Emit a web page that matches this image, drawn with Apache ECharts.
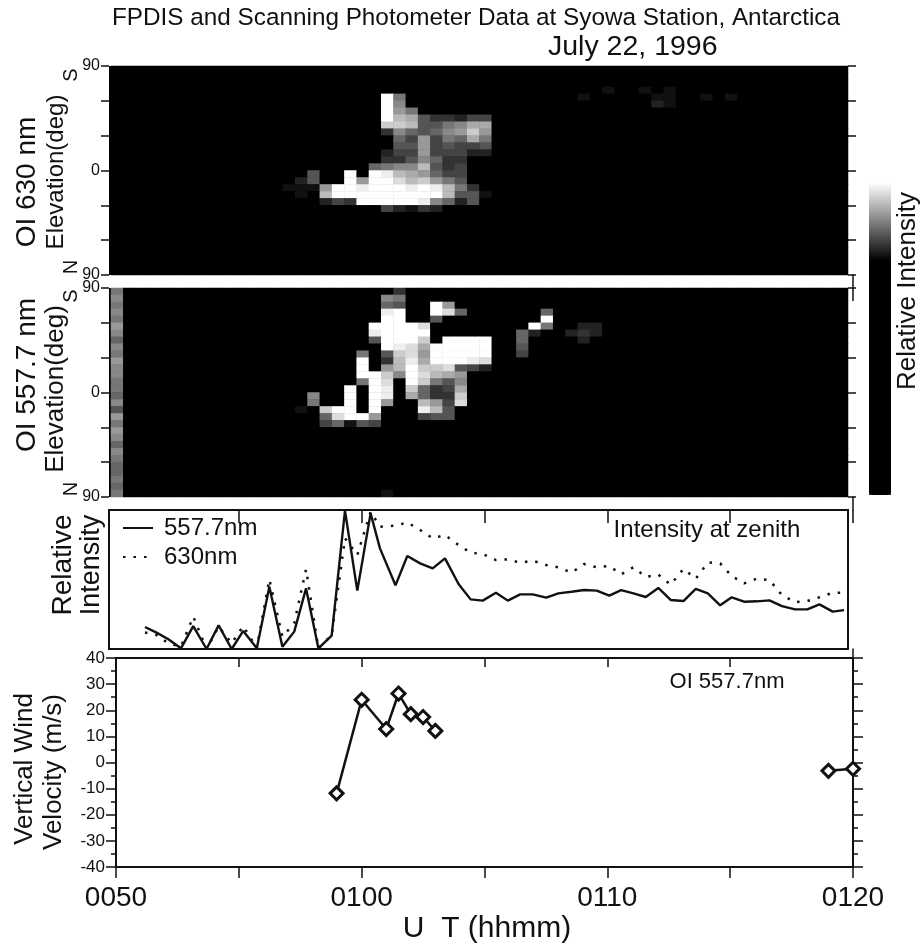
<!DOCTYPE html>
<html>
<head>
<meta charset="utf-8">
<style>html,body{margin:0;padding:0;background:#fff}#c{width:922px;height:945px}</style>
<script src="https://cdn.jsdelivr.net/npm/echarts@6/dist/echarts.min.js"></script>
</head>
<body>
<div id="c"></div>
<script>
const FONT = '"Liberation Sans", Arial, sans-serif';
const INK = '#111';

const titleText = 'FPDIS and Scanning Photometer Data at Syowa Station, Antarctica';
const dateText = 'July 22, 1996';
const elevationLabels = { '90': '90', '0': '0', '-90': '90' };
const utLabels = { 0: '0050', 10: '0100', 20: '0110', 30: '0120' };
const gapTicks = [5, 10, 15, 20, 25, 30];

// Image cells: [row, first column, one hex digit per column]; 30 rows x 60 columns
const oi630Cells = [
  [3, 40, '1001'], [3, 43, '101'], [4, 22, 'f7'], [4, 38, '1'], [4, 44, '11'], [4, 48, '101'],
  [5, 22, 'f8'], [5, 44, '21'], [6, 22, 'f97'],
  [7, 22, 'fba533244'], [8, 22, 'ccb5578aa'], [9, 22, '3865689c9'], [10, 22, '0649476a7'],
  [11, 22, '055945445'], [12, 22, '244944422'], [13, 22, '3358633'], [14, 21, '6788b534'],
  [15, 16, '500f0feba9644'], [16, 15, '2500f9ffdbc975'], [17, 14, '1119ffefffefeb73'],
  [18, 15, '10bfffffffffb551'], [19, 17, '243fffffe8625'], [20, 22, '42132']
];
const oi5577Edge = '787879868798877685979868766767';
const oi5577Cells = [
  [0, 23, '3'], [1, 22, '87'], [2, 22, '65'], [2, 26, 'f9'], [3, 22, 'ef00fd6'], [3, 35, '6'],
  [4, 22, 'ff005'], [4, 35, 'f'], [5, 21, 'ffffd'], [5, 34, 'f7'], [5, 38, '22'],
  [6, 21, 'effff'], [6, 33, '62'], [6, 37, '232'], [7, 21, '5fffc0ffff'], [7, 33, '6'], [7, 38, '2'],
  [8, 22, 'fedafffff'], [8, 33, '5'], [9, 20, '705cd9fffff'], [9, 33, '4'],
  [10, 20, 'f03beafffed'], [11, 20, 'f09bfccd542'], [12, 20, 'ffc8fdba9'],
  [13, 20, '7fd0fc758'], [14, 19, 'f0fe0c634a'], [15, 16, '800f0fe0a633c'],
  [16, 16, '700f0f900b94d'], [17, 15, '10cff0f000eb5'], [18, 17, '6dff9000455'],
  [19, 17, '46154'], [29, 22, '1']
];

// Intensity at zenith: minutes after 0050 on the panel's own frame, 0-100 relative scale
const zenithTimes = [1.46, 1.93, 2.41, 2.92, 3.42, 3.96, 4.45, 4.98, 5.45, 6.0, 6.51, 7.04, 7.52, 8.0, 8.5, 9.04, 9.58, 10.08, 10.62, 11.0, 11.63, 12.11, 12.63, 13.14, 13.64, 14.19, 14.68, 15.17, 15.71, 16.19, 16.69, 17.2, 17.75, 18.24, 18.78, 19.28, 19.8, 20.31, 20.79, 21.29, 21.79, 22.3, 22.8, 23.32, 23.82, 24.31, 24.81, 25.28, 25.78, 26.3, 26.81, 27.32, 27.85, 28.35, 28.84, 29.38, 29.84];
const zenith5577 = [15.8, 11.8, 7, 0.5, 16.5, 0, 17, 0, 13, 0.5, 44.8, 1.7, 12.5, 43.6, 0.5, 9.6, 99.5, 42, 97.6, 72.4, 45.8, 66.9, 61.6, 58, 65.2, 46.8, 35.7, 34.8, 40.5, 34.8, 39.3, 39.3, 36.9, 40, 41.2, 42.4, 42, 38.4, 42.4, 40, 37.4, 43.9, 35.3, 34.5, 43.2, 40, 31.4, 37.2, 34, 34.3, 35, 30.9, 28.5, 28.5, 32.1, 26.9, 28];
const zenith630 = [11.8, 10.1, 4.1, 1.7, 23.3, 0, 16.1, 4.1, 16.5, 0.5, 50.1, 8.9, 18.5, 57.3, 0.5, 10.1, 79.6, 67.6, 98.8, 88, 88.7, 91.1, 85.6, 79.6, 82, 74.8, 69.3, 68.3, 64, 64.5, 62.1, 63.5, 60.4, 58.8, 54.9, 61.1, 58.8, 59.7, 53.7, 58.8, 51.8, 53.5, 46.3, 57.6, 50.6, 62.3, 61.6, 52.5, 47.2, 50.6, 49.6, 38.8, 33.6, 34.5, 37.2, 40.5, 40.5];

// Vertical wind: minutes after 0050, m/s; null breaks the line
const windTimes = [8.98, 10, 11, 11.5, 12, 12.5, 13, 20, 29, 30];
const windValues = [-11.8, 24, 12.8, 26.4, 18.5, 17.4, 12.1, null, -3.2, -2.4];

const COLS = 60, ROWS = 30;
const colCats = Array.from({ length: COLS }, (_, i) => i);
const rowCats = Array.from({ length: ROWS }, (_, i) => i);
const toIntensity = d => { const v = parseInt(d, 16); return v ? 0.75 + 0.25 * v / 15 : 0; };
function buildCells(cells, edge) {
  const g = rowCats.map(() => colCats.map(() => 0));
  cells.forEach(([r, c, s]) => { [...s].forEach((d, i) => { g[r][c + i] = toIntensity(d); }); });
  if (edge) [...edge].forEach((d, r) => { g[r][0] = toIntensity(d); });
  const out = [];
  g.forEach((row, r) => row.forEach((v, c) => out.push([c, r, v])));
  return out;
}

const hiddenX = (gridIndex) => ({ type: 'value', gridIndex, min: 0, max: 30, show: false });
const elevAxis = (gridIndex, position) => ({
  type: 'value', gridIndex, position, min: -90, max: 90, interval: 30,
  splitLine: { show: false }, axisLine: { show: false, onZero: false },
  axisTick: { show: true, length: 8, lineStyle: { color: INK, width: 1.5 } },
  axisLabel: position === 'left'
    ? { show: true, margin: 9, color: INK, fontFamily: FONT, fontSize: 16, showMinLabel: true, showMaxLabel: true, formatter: v => elevationLabels[v] || '' }
    : { show: false }
});
const catX = gridIndex => ({ type: 'category', gridIndex, data: colCats, show: false });
const catY = gridIndex => ({ type: 'category', gridIndex, data: rowCats, inverse: true, show: false });

const grids = [
  { left: 109, top: 66, width: 739, height: 209, show: true, backgroundColor: '#000', borderWidth: 0 },
  { left: 111, top: 66, width: 737, height: 209 },
  { left: 109, top: 288, width: 739, height: 209, show: true, backgroundColor: '#000', borderWidth: 0 },
  { left: 111, top: 288, width: 737, height: 209 },
  { left: 109, top: 510, width: 739, height: 139, show: true, backgroundColor: '#fff', borderColor: INK, borderWidth: 2 },
  { left: 116, top: 658, width: 737, height: 209 },
  { left: 116, top: 275, width: 737, height: 13 },
  { left: 116, top: 497, width: 737, height: 13 },
  { left: 116, top: 649, width: 737, height: 9 }
];
const gapX = (gridIndex, len) => ({
  type: 'value', gridIndex, position: 'top', min: 0, max: 30, interval: 5,
  splitLine: { show: false }, axisLine: { show: false }, axisLabel: { show: false },
  axisTick: { show: true, inside: true, length: len, customValues: gapTicks, lineStyle: { color: INK, width: 1.5 } }
});
const gapY = gridIndex => ({
  type: 'value', gridIndex, position: 'right', min: 0, max: 1,
  splitLine: { show: false }, axisTick: { show: false }, axisLabel: { show: false },
  axisLine: { show: true, onZero: false, lineStyle: { color: INK, width: 1.5 } }
});
const windY = (gridIndex, position) => ({
  type: 'value', gridIndex, position, min: -40, max: 40, interval: 10,
  splitLine: { show: false },
  axisLine: { show: true, onZero: false, lineStyle: { color: INK, width: 2 } },
  axisTick: { show: true, length: 10, lineStyle: { color: INK, width: 1.5 } },
  minorTick: { show: true, splitNumber: 2, length: 5, lineStyle: { color: INK, width: 1.5 } },
  axisLabel: position === 'left'
    ? { show: true, margin: 11, color: INK, fontFamily: FONT, fontSize: 17, showMinLabel: true, showMaxLabel: true }
    : { show: false }
});

const xAxes = [
  hiddenX(0), catX(1), hiddenX(2), catX(3), hiddenX(4),
  {
    type: 'value', gridIndex: 5, position: 'bottom', min: 0, max: 30, interval: 5,
    splitLine: { show: false },
    axisLine: { show: true, onZero: false, lineStyle: { color: INK, width: 2 } },
    axisTick: { show: true, length: 11, lineStyle: { color: INK, width: 1.5 } },
    axisLabel: { show: true, margin: 17, color: INK, fontFamily: FONT, fontSize: 28, showMinLabel: true, showMaxLabel: true, formatter: v => utLabels[v] || '' }
  },
  gapX(6, 13), gapX(7, 13), gapX(8, 9),
  { type: 'value', gridIndex: 5, position: 'top', min: 0, max: 30, splitLine: { show: false }, axisTick: { show: false }, axisLabel: { show: false }, axisLine: { show: true, onZero: false, lineStyle: { color: INK, width: 2 } } }
];
const yAxes = [
  elevAxis(0, 'left'), catY(1), elevAxis(2, 'left'), catY(3),
  { type: 'value', gridIndex: 4, min: 0, max: 100, show: false },
  windY(5, 'left'),
  gapY(6), gapY(7), gapY(8),
  windY(5, 'right'), elevAxis(0, 'right'), elevAxis(2, 'right')
];

const rotated = (text, x, y, fontSize) => ({
  type: 'text', x, y, rotation: Math.PI / 2, silent: true,
  style: { text, fontSize, fontFamily: FONT, fill: INK, align: 'center', verticalAlign: 'middle' }
});
const plain = (text, x, y, fontSize) => ({
  type: 'text', x, y, silent: true,
  style: { text, fontSize, fontFamily: FONT, fill: INK, align: 'center', verticalAlign: 'middle' }
});

const chart = echarts.init(document.getElementById('c'), null, { renderer: 'canvas' });
chart.setOption({
  animation: false,
  backgroundColor: '#fff',
  title: [
    { text: titleText, left: 112, top: 6, padding: 0, textStyle: { color: INK, fontFamily: FONT, fontWeight: 'normal', fontSize: 24.3 } },
    { text: dateText, left: 548, top: 33, padding: 0, textStyle: { color: INK, fontFamily: FONT, fontWeight: 'normal', fontSize: 28.5 } }
  ],
  grid: grids,
  xAxis: xAxes,
  yAxis: yAxes,
  visualMap: {
    type: 'continuous', seriesIndex: [0, 1], min: 0, max: 1,
    left: 869, top: 183, itemWidth: 22, itemHeight: 312, padding: 0,
    calculable: false, hoverLink: false, realtime: false, text: ['', ''], showLabel: false,
    inRange: { color: ['#000', '#000', '#000', '#000', '#fff'] },
    textStyle: { fontSize: 1, color: '#fff' }, formatter: () => ''
  },
  legend: {
    left: 122, top: 516, orient: 'vertical', itemWidth: 30, itemHeight: 24, itemGap: 5,
    selectedMode: false, padding: 0, itemStyle: { opacity: 0 },
    data: ['557.7nm', '630nm'],
    textStyle: { color: INK, fontFamily: FONT, fontSize: 24, padding: [0, 0, 0, 6] }
  },
  graphic: [
    { type: 'rect', silent: true, z: -1, shape: { x: 869, y: 485, width: 22, height: 10 }, style: { fill: '#000' } },
    rotated('OI 630 nm', 27, 182, 28),
    rotated('Elevation(deg)', 56, 172, 24),
    rotated('S', 71, 75, 20),
    rotated('N', 71, 267, 20),
    rotated('OI 557.7 nm', 27, 375, 28),
    rotated('Elevation(deg)', 56, 389, 26),
    rotated('S', 71, 296, 20),
    rotated('N', 71, 489, 20),
    rotated('Relative', 63, 565, 28),
    rotated('Intensity', 92, 565, 27),
    rotated('Vertical Wind', 25, 769, 26),
    rotated('Velocity (m/s)', 54, 772, 26),
    rotated('Relative Intensity', 908, 291, 26),
    plain('Intensity at zenith', 707, 530, 24),
    plain('OI 557.7nm', 727, 682, 22),
    plain('U  T (hhmm)', 487, 929, 30)
  ],
  series: [
    { type: 'heatmap', xAxisIndex: 1, yAxisIndex: 1, data: buildCells(oi630Cells), progressive: 0, silent: true, emphasis: { disabled: true } },
    { type: 'heatmap', xAxisIndex: 3, yAxisIndex: 3, data: buildCells(oi5577Cells, oi5577Edge), progressive: 0, silent: true, emphasis: { disabled: true } },
    {
      name: '557.7nm', type: 'line', xAxisIndex: 4, yAxisIndex: 4, symbol: 'none', silent: true, clip: false,
      lineStyle: { color: INK, width: 2.4 }, itemStyle: { color: INK },
      data: zenithTimes.map((t, i) => [t, zenith5577[i]])
    },
    {
      name: '630nm', type: 'line', xAxisIndex: 4, yAxisIndex: 4, symbol: 'none', silent: true, clip: false,
      lineStyle: { color: INK, width: 2.5, type: [2.5, 8] }, itemStyle: { color: INK },
      data: zenithTimes.map((t, i) => [t, zenith630[i]])
    },
    {
      type: 'line', xAxisIndex: 5, yAxisIndex: 5, silent: true, clip: false, connectNulls: false,
      symbol: 'diamond', symbolSize: 13, showSymbol: true,
      lineStyle: { color: INK, width: 2.5 },
      itemStyle: { color: '#fff', borderColor: INK, borderWidth: 3 },
      data: windTimes.map((t, i) => [t, windValues[i]])
    }
  ]
});
</script>
</body>
</html>
